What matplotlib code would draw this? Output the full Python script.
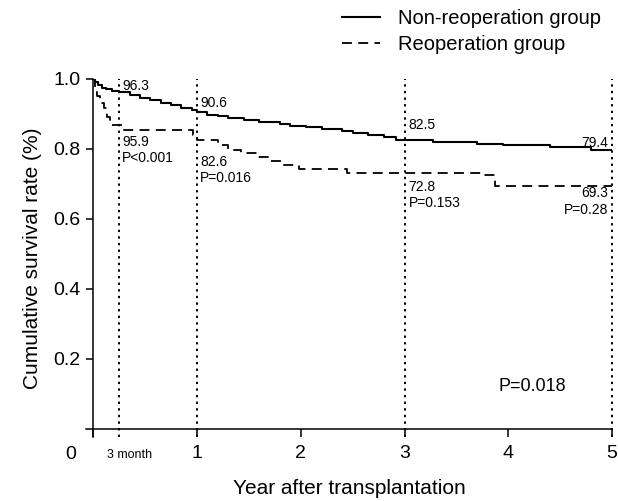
import matplotlib
matplotlib.use("Agg")
import matplotlib.pyplot as plt

plt.rcParams['font.family'] = ['Liberation Sans', 'DejaVu Sans']

# Kaplan-Meier steps (years, survival)
non_reop_t = [0, 0.02, 0.05, 0.08, 0.12, 0.18, 0.25, 0.35, 0.45, 0.55, 0.65, 0.75,
              0.85, 0.95, 1.0, 1.1, 1.2, 1.3, 1.45, 1.6, 1.8, 1.9, 2.05, 2.2, 2.4,
              2.5, 2.65, 2.8, 2.92, 3.27, 3.7, 3.95, 4.4, 4.8, 5.0]
non_reop_s = [1.0, 0.99, 0.982, 0.975, 0.97, 0.967, 0.963, 0.955, 0.947, 0.94, 0.932, 0.925,
              0.918, 0.91, 0.906, 0.898, 0.893, 0.889, 0.884, 0.877, 0.871, 0.866, 0.862, 0.857, 0.852,
              0.846, 0.84, 0.834, 0.827, 0.821, 0.815, 0.81, 0.805, 0.797, 0.796]

reop_t = [0, 0.02, 0.04, 0.065, 0.1, 0.135, 0.165, 0.29, 0.96, 1.0, 1.2, 1.3, 1.42,
          1.58, 1.68, 1.83, 1.98, 2.45, 3.76, 3.87, 5.0]
reop_s = [1.0, 0.963, 0.95, 0.93, 0.917, 0.89, 0.869, 0.854, 0.84, 0.826, 0.81, 0.797, 0.789,
          0.777, 0.766, 0.754, 0.743, 0.731, 0.727, 0.694, 0.694]

mark_t = [0.25, 1, 3, 5]

x_ticks = [0, 1, 2, 3, 4, 5]
x_labels = ['', '1', '2', '3', '4', '5']
y_ticks = [0.2, 0.4, 0.6, 0.8, 1.0]
y_labels = ['0.2', '0.4', '0.6', '0.8', '1.0']

fig = plt.figure(figsize=(6.18, 5.01), dpi=100)
ax = fig.add_axes([86 / 618, 1 - 437 / 501, (612 - 86) / 618, (437 - 79) / 501])

l1, = ax.plot(non_reop_t, non_reop_s, color='black', lw=1.5, drawstyle='steps-post',
              label='Non-reoperation group')
l2, = ax.plot(reop_t, reop_s, color='black', lw=1.3, drawstyle='steps-post',
              dashes=(5.5, 3.5), label='Reoperation group')

for t in mark_t:
    ax.axvline(t, color='black', lw=1.4, ls=(0, (1.2, 2.2)), clip_on=False)

ax.set_xlim(-0.07, 5)
ax.set_ylim(-0.023, 1.0)

for s in ['top', 'right']:
    ax.spines[s].set_visible(False)
ax.spines['left'].set_position(('data', 0))
ax.spines['bottom'].set_position(('data', 0))
ax.spines['left'].set_linewidth(1.1)
ax.spines['bottom'].set_linewidth(1.1)

ax.set_xticks(x_ticks)
ax.set_xticklabels(x_labels)
ax.set_yticks(y_ticks)
ax.set_yticklabels(y_labels)
ax.tick_params(axis='x', length=5.5, width=1.1, pad=6, labelsize=14)
ax.tick_params(axis='y', length=5, width=1.1, pad=4, labelsize=14)

ax.set_xlabel('Year after transplantation', fontsize=15, labelpad=12)
ax.set_ylabel('Cumulative survival rate (%)', fontsize=15, labelpad=8)

ax.text(-0.22, -0.074, '0', fontsize=14, ha='center', va='center')
ax.text(0.347, -0.074, '3 month', fontsize=9, ha='center', va='center')

# survival labels
ax.text(0.28, 0.98, '96.3', fontsize=10, va='center')
ax.text(1.03, 0.931, '90.6', fontsize=10, va='center')
ax.text(3.04, 0.868, '82.5', fontsize=10, va='center')
ax.text(4.96, 0.818, '79.4', fontsize=10, va='center', ha='right')
ax.text(0.28, 0.798, '95.9\nP<0.001', fontsize=10, va='center')
ax.text(1.03, 0.741, '82.6\nP=0.016', fontsize=10, va='center')
ax.text(3.04, 0.669, '72.8\nP=0.153', fontsize=10, va='center')
ax.text(4.96, 0.65, '69.3\nP=0.28', fontsize=10, va='center', ha='right', multialignment='right')
ax.text(4.23, 0.12, 'P=0.018', fontsize=13, ha='center', va='center')

fig.legend(handles=[l1, l2], loc='upper left', bbox_to_anchor=(342 / 618, 1 - 9 / 501),
           frameon=False, fontsize=14.5, handlelength=1.9, handletextpad=0.9,
           labelspacing=0.35, borderpad=0, borderaxespad=0)

fig.savefig('out.png', dpi=100)
